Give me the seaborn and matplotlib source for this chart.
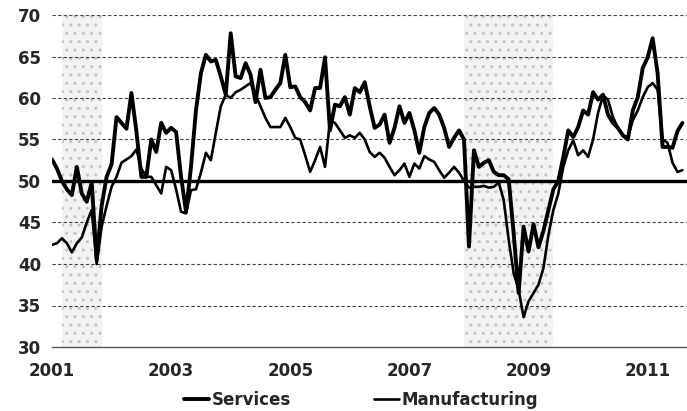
import pandas as pd
import matplotlib.pyplot as plt
import seaborn as sns

# monthly index values, Jan 2001 - Aug 2011
services = [
    52.6, 51.5, 50.0, 49.0, 48.3, 51.7, 48.5, 47.5, 49.8, 40.5, 47.0, 50.5,
    52.0, 57.7, 57.0, 56.3, 60.6, 56.0, 50.5, 50.5, 55.0, 53.5, 57.0, 55.8,
    56.4, 55.9, 50.5, 46.3, 51.7, 58.5, 63.0, 65.2, 64.4, 64.6, 62.6, 60.4,
    67.8, 62.6, 62.4, 64.2, 62.8, 59.5, 63.4, 60.0, 60.1, 61.0, 61.8, 65.2,
    61.3, 61.4, 60.1, 59.5, 58.5, 61.2, 61.2, 64.9, 56.1, 59.2, 59.0, 60.1,
    58.0, 61.2, 60.7, 61.9, 59.0, 56.4, 56.8, 58.0, 54.6, 56.4, 59.0, 57.0,
    58.2, 56.1, 53.4, 56.5, 58.2, 58.8, 58.0, 56.4, 54.1, 55.2, 56.1, 55.0,
    42.1, 53.7, 51.7, 52.2, 52.5, 51.1, 50.7, 50.7, 50.2, 43.7, 36.5, 44.5,
    41.5, 44.8, 42.0, 44.0, 46.5, 49.0, 50.0, 52.9, 56.1, 55.3, 56.5, 58.5,
    58.0, 60.7, 59.8, 60.4, 58.0, 57.0, 56.4, 55.5, 55.0, 58.5, 60.1, 63.6,
    64.9, 67.2, 63.0, 54.1, 54.1, 54.0, 56.0, 57.0,
]
manufacturing = [
    42.3, 42.5, 43.1, 42.5, 41.4, 42.5, 43.2, 45.0, 46.5, 40.0, 44.5, 47.0,
    49.3, 50.5, 52.2, 52.6, 53.0, 53.8, 51.5, 50.5, 50.5, 49.5, 48.5, 51.7,
    51.3, 49.0, 46.3, 46.1, 48.9, 49.0, 51.0, 53.4, 52.5, 55.8, 59.0, 60.4,
    60.0, 60.7, 61.0, 61.4, 61.8, 60.4, 59.0, 57.6, 56.5, 56.5, 56.5, 57.6,
    56.5, 55.2, 55.0, 53.1, 51.1, 52.5, 54.1, 51.7, 57.3, 57.0, 56.1, 55.2,
    55.5, 55.2, 55.8, 55.0, 53.5, 52.9, 53.4, 52.8, 51.7, 50.7, 51.3, 52.1,
    50.5, 52.1, 51.5, 53.0, 52.6, 52.3, 51.3, 50.4, 51.0, 51.7, 51.0, 50.0,
    49.2, 49.3, 49.3, 49.4, 49.2, 49.3, 49.8, 47.7, 42.9, 38.9, 36.9, 33.6,
    35.5, 36.5, 37.5, 39.5, 43.5, 46.5, 48.5, 51.7, 53.7, 54.9, 53.1, 53.7,
    52.9, 55.0, 58.2, 60.3, 59.8, 57.7, 56.4, 55.5, 55.3, 57.3, 58.5, 60.1,
    61.3, 61.8, 61.0, 55.0, 54.6, 52.2, 51.1, 51.3,
]

# recessions (shaded)
rec_start = ["2001-03", "2007-12"]
rec_end = ["2001-11", "2009-06"]

year_ticks = [2001, 2003, 2005, 2007, 2009, 2011]
y_ticks = [30, 35, 40, 45, 50, 55, 60, 65, 70]


def dec_year(d):
    d = pd.to_datetime(d)
    return d.year + (d.month - 1) / 12


dates = pd.date_range("2001-01-01", periods=len(services), freq="MS")
df = pd.DataFrame({
    "t": dec_year(dates),
    "Services": services,
    "Manufacturing": manufacturing,
})

sns.set_style("white")
plt.rcParams["font.family"] = ["DejaVu Sans"]

fig = plt.figure(figsize=(6.87, 4.11), dpi=100)
ax = fig.add_axes([52 / 687, 1 - 347 / 411, 1 - 52 / 687, (347 - 15) / 411])

for s, e in zip(rec_start, rec_end):
    ax.axvspan(dec_year(s), dec_year(e), facecolor="#f3f3f3",
               hatch="..", edgecolor="#c4c4c4", lw=0, zorder=0)

for y in y_ticks[1:]:
    ax.axhline(y, color="#444444", lw=0.8, ls=(0, (3, 2)), zorder=1)

ax.axhline(50, color="black", lw=2.4, zorder=2)

sns.lineplot(data=df, x="t", y="Services", ax=ax, color="black",
             lw=2.8, label="Services", zorder=4)
sns.lineplot(data=df, x="t", y="Manufacturing", ax=ax, color="black",
             lw=1.9, label="Manufacturing", zorder=3)

ax.set_xlim(2001, 2011.66)
ax.set_ylim(30, 70)
ax.set_xticks(year_ticks)
ax.set_xticklabels([str(y) for y in year_ticks])
ax.set_yticks(y_ticks)
ax.set_xlabel("")
ax.set_ylabel("")

for sp in ["top", "right", "left"]:
    ax.spines[sp].set_visible(False)
ax.spines["bottom"].set_color("#555555")
ax.spines["bottom"].set_linewidth(1.0)
ax.spines["bottom"].set_linestyle((0, (4, 1)))

ax.tick_params(axis="x", length=3, width=1, color="#333333",
               labelsize=12, pad=8)
ax.tick_params(axis="y", length=0, labelsize=12, pad=8)
for lab in ax.get_xticklabels() + ax.get_yticklabels():
    lab.set_fontweight("bold")

leg = ax.legend(loc="center", bbox_to_anchor=(0.487, -0.16), ncol=2,
                frameon=False, handlelength=1.5, handletextpad=0.15,
                columnspacing=5.0, borderpad=0.1,
                prop={"weight": "bold", "size": 12})

fig.savefig("out.png", dpi=100)
